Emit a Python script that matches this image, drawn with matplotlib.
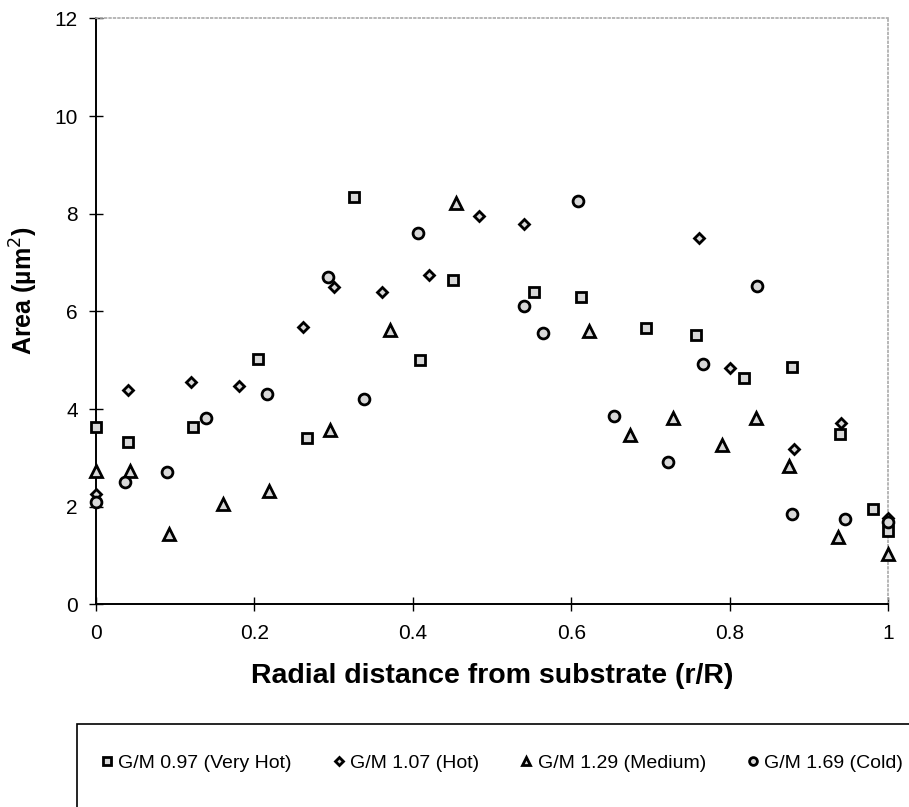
import matplotlib.pyplot as plt
from matplotlib.patches import Rectangle

plt.rcParams['font.family'] = ['Liberation Sans', 'DejaVu Sans']

# G/M 0.97 (Very Hot) - squares
vhot_x = [0.0, 0.041, 0.123, 0.205, 0.266, 0.326, 0.409, 0.451, 0.553, 0.613,
          0.695, 0.757, 0.818, 0.879, 0.940, 0.981, 1.0]
vhot_y = [3.63, 3.33, 3.63, 5.03, 3.40, 8.34, 5.01, 6.64, 6.39, 6.30,
          5.65, 5.51, 4.64, 4.86, 3.48, 1.95, 1.50]

# G/M 1.07 (Hot) - diamonds
hot_x = [0.0, 0.041, 0.120, 0.180, 0.261, 0.301, 0.361, 0.421, 0.484, 0.541,
         0.761, 0.801, 0.881, 0.941, 1.0]
hot_y = [2.25, 4.38, 4.55, 4.47, 5.67, 6.50, 6.39, 6.74, 7.96, 7.80,
         7.50, 4.85, 3.18, 3.71, 1.77]

# G/M 1.29 (Medium) - triangles
med_x = [0.0, 0.043, 0.092, 0.160, 0.219, 0.295, 0.371, 0.455, 0.623, 0.674,
         0.728, 0.791, 0.833, 0.875, 0.937, 1.0]
med_y = [2.72, 2.73, 1.43, 2.06, 2.32, 3.57, 5.61, 8.22, 5.59, 3.47,
         3.82, 3.26, 3.81, 2.83, 1.37, 1.03]

# G/M 1.69 (Cold) - circles
cold_x = [0.0, 0.036, 0.090, 0.139, 0.216, 0.293, 0.338, 0.407, 0.541, 0.564,
          0.609, 0.654, 0.722, 0.766, 0.835, 0.879, 0.946, 1.0]
cold_y = [2.10, 2.51, 2.71, 3.82, 4.30, 6.71, 4.21, 7.60, 6.10, 5.56,
          8.27, 3.86, 2.91, 4.92, 6.53, 1.85, 1.74, 1.68]

series = [
    (vhot_x, vhot_y, 's', 7.3, 'G/M 0.97 (Very Hot)'),
    (hot_x, hot_y, 'D', 5.6, 'G/M 1.07 (Hot)'),
    (med_x, med_y, '^', 8.5, 'G/M 1.29 (Medium)'),
    (cold_x, cold_y, 'o', 7.8, 'G/M 1.69 (Cold)'),
]

fig = plt.figure(figsize=(9.09, 8.07), dpi=100)
ax = fig.add_axes([0.1056, 0.2512, 0.8713, 0.7259])

for x, y, m, ms, lab in series:
    ax.plot(x, y, linestyle='none', marker=m, markersize=ms,
            markerfacecolor='#d8d8d8', markeredgecolor='black',
            markeredgewidth=2.0, label=lab, clip_on=False, zorder=3)

ax.set_xlim(0, 1)
ax.set_ylim(0, 12)
ax.set_xticks([0, 0.2, 0.4, 0.6, 0.8, 1])
ax.set_xticklabels(['0', '0.2', '0.4', '0.6', '0.8', '1'])
ax.set_yticks([0, 2, 4, 6, 8, 10, 12])
ax.tick_params(direction='inout', length=10, width=1, labelsize=15)
ax.tick_params(axis='x', pad=9)
ax.tick_params(axis='y', pad=8)

for s in ['left', 'bottom']:
    ax.spines[s].set_linewidth(1.4)
for s in ['top', 'right']:
    ax.spines[s].set_color('#aaaaaa')
    ax.spines[s].set_linestyle(':')
    ax.spines[s].set_linewidth(1.2)

ax.set_xlabel('Radial distance from substrate (r/R)', fontsize=20.5,
              fontweight='bold')
ax.xaxis.set_label_coords(0.5, -0.1)
ax.set_ylabel('Area (µm$^2$)', fontsize=18, fontweight='bold')
ax.yaxis.set_label_coords(-0.071, 0.535)

# legend box, cut off by the figure edge like the source image
fig.patches.append(Rectangle((77 / 909, -0.1), 1.0, (807 - 724) / 807 + 0.1,
                             transform=fig.transFigure, fill=False,
                             edgecolor='black', linewidth=1.2))
fig.legend(loc='center left', bbox_to_anchor=(100 / 909, 1 - 763 / 807),
           ncol=4, frameon=False, fontsize=14, markerscale=0.72,
           handlelength=0.7, handletextpad=0.25, columnspacing=2.05,
           borderpad=0, borderaxespad=0)

fig.savefig('out.png', dpi=100)
